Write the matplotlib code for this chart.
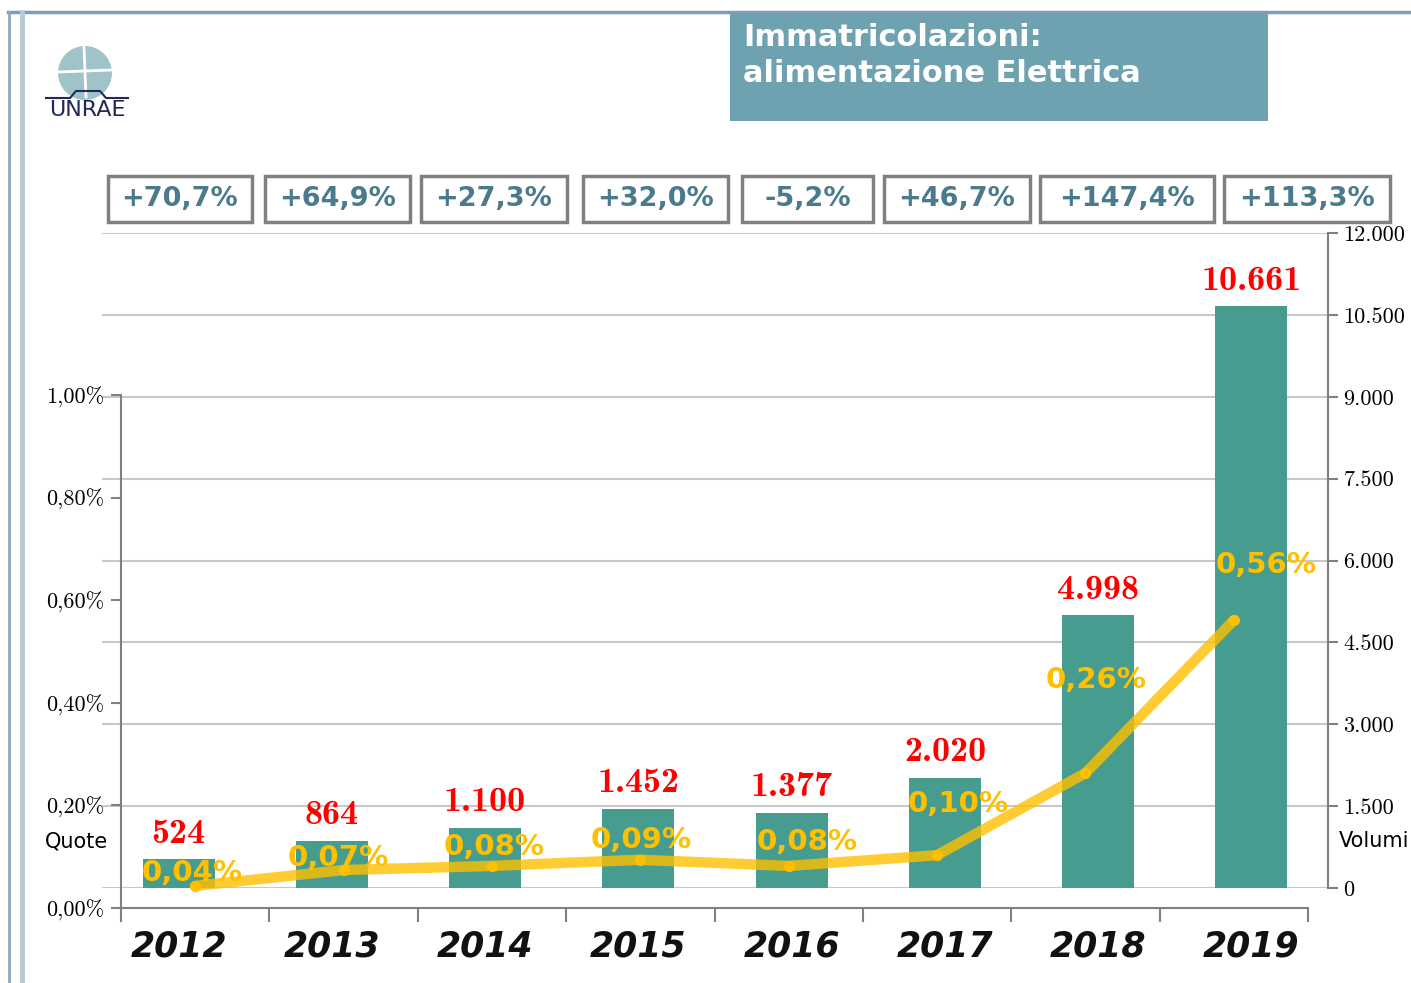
import matplotlib
matplotlib.use("Agg")
import matplotlib.pyplot as plt
from matplotlib.patches import Rectangle, Ellipse
from matplotlib.lines import Line2D

# ---- data ----
years = ["2012", "2013", "2014", "2015", "2016", "2017", "2018", "2019"]
volumes = [524, 864, 1100, 1452, 1377, 2020, 4998, 10661]
volume_labels = ["524", "864", "1.100", "1.452", "1.377", "2.020", "4.998", "10.661"]
shares = [0.043, 0.074, 0.082, 0.094, 0.082, 0.103, 0.263, 0.561]
share_labels = ["0,04%", "0,07%", "0,08%", "0,09%", "0,08%", "0,10%", "0,26%", "0,56%"]
growth_labels = ["+70,7%", "+64,9%", "+27,3%", "+32,0%", "-5,2%", "+46,7%", "+147,4%", "+113,3%"]
right_ticks = [0, 1500, 3000, 4500, 6000, 7500, 9000, 10500, 12000]
right_tick_labels = ["0", "1.500", "3.000", "4.500", "6.000", "7.500", "9.000", "10.500", "12.000"]
left_ticks = [0.0, 0.2, 0.4, 0.6, 0.8, 1.0]
left_tick_labels = ["0,00%", "0,20%", "0,40%", "0,60%", "0,80%", "1,00%"]

W, H = 1411, 983
fig = plt.figure(figsize=(W / 100, H / 100), dpi=100)
fig.patch.set_facecolor("white")

def fx(px):
    return px / W

def fy(py):
    return 1 - py / H

BAR_C = "#469d8f"
GOLD = "#ffc000"
GRID = "#c8c8c8"
SPINE = "#808080"
SERIF = ["cmr10", "DejaVu Serif"]
SERIF_B = ["cmb10", "DejaVu Serif"]

# ---- bar axis (right scale) ----
axb = fig.add_axes([fx(102), fy(888), fx(1328 - 102), (888 - 233) / H])
x = list(range(len(years)))
axb.bar(x, volumes, width=0.47, color=BAR_C, zorder=2)
axb.set_xlim(-0.5, 7.5)
axb.set_ylim(0, 12000)
axb.set_yticks(right_ticks)
axb.set_yticklabels(right_tick_labels, family=SERIF, fontsize=16)
axb.yaxis.tick_right()
axb.tick_params(axis="y", direction="out", length=7, width=1.5, color=SPINE, pad=4)
axb.set_xticks([])
axb.grid(axis="y", color=GRID, lw=1.5, zorder=0)
for s in ["top", "left", "bottom"]:
    axb.spines[s].set_visible(False)
axb.spines["right"].set_color(SPINE)
axb.spines["right"].set_linewidth(1.5)
for i, (v, lab) in enumerate(zip(volumes, volume_labels)):
    axb.annotate(lab, (i, v), xytext=(0, 18), textcoords="offset points",
                 ha="center", va="center", color="#ff0000", fontsize=26,
                 family=SERIF_B, fontweight="bold", zorder=5)
# year labels, centred under the bars
for i, yr in enumerate(years):
    axb.annotate(yr, (i, 0), xytext=(0, -42), textcoords="offset points",
                 ha="center", va="center", fontsize=25, fontweight="bold",
                 fontstyle="italic", color="#111111", annotation_clip=False)

# ---- line axis (left scale) ----
axl = fig.add_axes([fx(121), fy(908), fx(1308 - 121), (908 - 395) / H])
axl.patch.set_alpha(0)
axl.plot(x, shares, color=GOLD, lw=7.5, alpha=0.8, solid_capstyle="round",
         solid_joinstyle="round", zorder=3)
axl.plot(x, shares, "o", color=GOLD, ms=7, zorder=4)
axl.set_xlim(-0.5, 7.5)
axl.set_ylim(0, 1.0)
axl.set_yticks(left_ticks)
axl.set_yticklabels(left_tick_labels, family=SERIF, fontsize=16)
axl.tick_params(axis="y", direction="out", length=7, width=1.5, color=SPINE, pad=5)
axl.set_xticks([])
axl.set_xticks([i - 0.5 for i in range(len(years) + 1)], minor=True)
axl.tick_params(axis="x", which="minor", direction="out", length=10, width=1.5, color=SPINE)
for s in ["top", "right"]:
    axl.spines[s].set_visible(False)
for s in ["left", "bottom"]:
    axl.spines[s].set_color(SPINE)
    axl.spines[s].set_linewidth(1.5)

share_offsets = [(-3, 13), (-5, 12), (2, 19), (1, 20), (18, 24), (21, 51), (11, 93), (32, 55)]
for i, (v, lab) in enumerate(zip(shares, share_labels)):
    dx, dy = share_offsets[i]
    axl.annotate(lab, (i, v), xytext=(dx * 0.72, dy * 0.72), textcoords="offset points",
                 ha="center", va="center", color=GOLD, fontsize=21,
                 fontweight="bold", zorder=6)

# ---- axis captions ----
fig.text(fx(77), fy(841), "Quote", ha="center", va="center", fontsize=15)
fig.text(fx(1374), fy(841), "Volumi", ha="center", va="center", fontsize=15)

# ---- growth boxes ----
box_x = [(108, 252), (265, 410), (421, 567), (583, 728), (742, 873), (884, 1030), (1040, 1214), (1224, 1390)]
for (x0, x1), lab in zip(box_x, growth_labels):
    fig.patches.append(Rectangle((fx(x0), fy(222)), fx(x1 - x0), 46 / H,
                                 transform=fig.transFigure, fill=False,
                                 edgecolor="#808080", lw=2.5))
    fig.text(fx((x0 + x1) / 2), fy(199), lab, ha="center", va="center",
             fontsize=19.5, fontweight="bold", color="#4a7b8c")

# ---- title box ----
fig.patches.append(Rectangle((fx(730), fy(121)), fx(1268 - 730), 108 / H,
                             transform=fig.transFigure, facecolor="#6fa2b0",
                             edgecolor="none"))
fig.text(fx(743), fy(38), "Immatricolazioni:", ha="left", va="center",
         fontsize=22, fontweight="bold", color="white")
fig.text(fx(743), fy(73), "alimentazione Elettrica", ha="left", va="center",
         fontsize=22, fontweight="bold", color="white")

# ---- frame ----
fig.lines.append(Line2D([fx(8), 1], [fy(12), fy(12)], transform=fig.transFigure,
                        color="#7f9eb5", lw=2.5))
fig.lines.append(Line2D([fx(9), fx(9)], [fy(12), 0], transform=fig.transFigure,
                        color="#8fa8bb", lw=2))
fig.lines.append(Line2D([fx(22), fx(22)], [fy(12), 0], transform=fig.transFigure,
                        color="#b8cad6", lw=3.5))

# ---- logo ----
fig.patches.append(Ellipse((fx(85), fy(73)), 54 / W, 54 / H, transform=fig.transFigure,
                           facecolor="#9fc3c8", edgecolor="none"))
fig.lines.append(Line2D([fx(59), fx(111)], [fy(72), fy(70)], transform=fig.transFigure,
                        color="white", lw=2))
fig.lines.append(Line2D([fx(84), fx(86)], [fy(47), fy(97)], transform=fig.transFigure,
                        color="white", lw=2))
fig.lines.append(Line2D([fx(46), fx(70), fx(76), fx(100), fx(106), fx(128)],
                        [fy(98), fy(98), fy(91), fy(91), fy(98), fy(98)],
                        transform=fig.transFigure, color="#1f2a55", lw=1.5))
fig.text(fx(87), fy(110), "UNRAE", ha="center", va="center", fontsize=16,
         color="#1f2a55")

fig.savefig("out.png", dpi=100)
